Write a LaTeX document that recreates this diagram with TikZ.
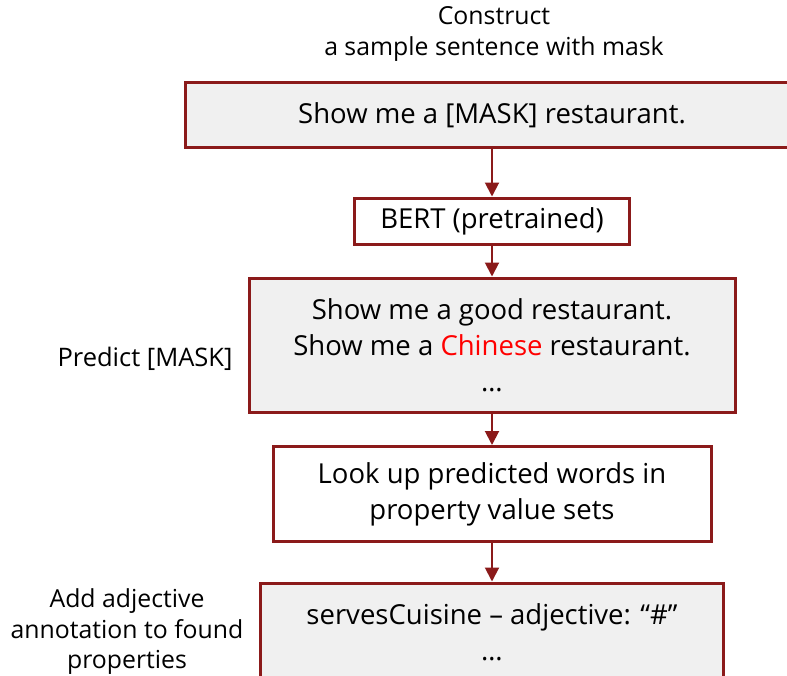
\documentclass[tikz,border=0pt]{standalone}
\usepackage{fontspec}
\setmainfont{Open Sans}
\usetikzlibrary{arrows.meta}
\definecolor{boxred}{RGB}{139,26,26}
\definecolor{boxgray}{RGB}{240,240,240}
\definecolor{hired}{RGB}{255,0,0}
\tikzset{
  box/.style={draw=boxred, line width=3bp, inner sep=0pt, align=center,
    font=\fontsize{27.5bp}{36bp}\selectfont},
  graybox/.style={box, fill=boxgray},
  whitebox/.style={box, fill=white},
  lbl/.style={inner sep=0pt, align=center, font=\fontsize{24.8bp}{31.5bp}\selectfont},
  arr/.style={draw=boxred, line width=2bp, -{Triangle[length=14bp,width=14bp]}},
}
\begin{document}
\begin{tikzpicture}[x=1bp,y=-1bp]
\clip (0,0) rectangle (787,676);
\fill[white] (0,0) rectangle (787,676);
\node[lbl] (title) at (494,34) {Construct\\a sample sentence with mask};
\node[graybox, minimum width=612bp, minimum height=64bp] (box1) at (492,115) {Show me a [MASK] restaurant.};
\node[whitebox, minimum width=275bp, minimum height=46bp] (bert) at (492,221) {BERT (pretrained)};
\node[graybox, minimum width=486bp, minimum height=134bp] (box3) at (492,345) {Show me a good restaurant.\\Show me a \textcolor{hired}{Chinese} restaurant.\\\ldots};
\node[lbl, font=\fontsize{25.5bp}{31.5bp}\selectfont] (pred) at (145,359) {Predict [MASK]};
\node[whitebox, minimum width=438bp, minimum height=95bp] (box4) at (492,494) {Look up predicted words in\\property value sets};
\node[graybox, minimum width=463bp, minimum height=98bp] (box5) at (492,632) {servesCuisine – adjective: “\#”\\\ldots};
\node[lbl, font=\fontsize{24.8bp}{30.5bp}\selectfont] (add) at (127,632) {Add adjective\\annotation to found\\properties};
\draw[arr] (box1.south) -- (bert.north);
\draw[arr] (bert.south) -- (box3.north);
\draw[arr] (box3.south) -- (box4.north);
\draw[arr] (box4.south) -- (box5.north);
\end{tikzpicture}
\end{document}
